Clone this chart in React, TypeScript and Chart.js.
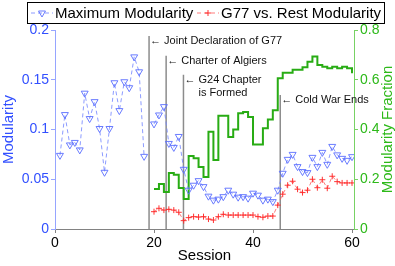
import React, { useEffect, useRef } from "react";
import { Chart, registerables } from "chart.js";

Chart.register(...registerables);

const FONT = '"Liberation Sans", Arial, Helvetica, sans-serif';

// ---------- data ----------
const seriesNames = ["Maximum Modularity", "G77 vs. Rest Modularity"];
const leftAxisTitle = "Modularity";
const rightAxisTitle = "Modularity Fraction";
const xAxisTitle = "Session";

const sessions = [
  1, 2, 3, 4, 5, 6, 7, 8, 9, 10, 11, 12, 13, 14, 15, 16, 17, 18, 19, 20,
  21, 22, 23, 24, 25, 26, 27, 28, 29, 30, 31, 32, 33, 34, 35, 36, 37, 38, 39, 40,
  41, 42, 43, 44, 45, 46, 47, 48, 49, 50, 51, 52, 53, 54, 55, 56, 57, 58, 59, 60,
];
const maxModularity = [
  0.074, 0.115, 0.0845, 0.087, 0.0795, 0.1365, 0.111, 0.128, 0.101, 0.057,
  0.101, 0.147, 0.119, 0.148, 0.142, 0.173, 0.158, 0.073, null, 0.1056,
  0.1146, 0.123, 0.086, 0.082, 0.093, 0.06, 0.039, 0.044, 0.0486, 0.0426,
  0.033, 0.029, 0.03, 0.0325, 0.039, 0.035, 0.032, 0.0325, 0.031, 0.036,
  0.034, 0.029, 0.03, 0.0275, 0.039, 0.056, 0.07, 0.075, 0.0627, 0.0577,
  0.0567, 0.072, 0.0627, 0.077, 0.065, 0.083, 0.0745, 0.071, 0.069, 0.0727,
];

const g77Sessions = [
  20, 21, 22, 23, 24, 25, 26, 27, 28, 29, 30, 31, 32, 33, 34, 35, 36, 37, 38, 39, 40,
  41, 42, 43, 44, 45, 46, 47, 48, 49, 50, 51, 52, 53, 54, 55, 56, 57, 58, 59, 60,
];
const g77VsRest = [
  0.0174, 0.0208, 0.019, 0.0198, 0.019, 0.0168, 0.0084, 0.0114, 0.0124, 0.012, 0.0124,
  0.01, 0.009, 0.0124, 0.0148, 0.014, 0.014, 0.014, 0.014, 0.014, 0.014,
  0.0124, 0.0118, 0.013, 0.013, 0.024, 0.035, 0.044, 0.048, 0.04, 0.0366,
  0.039, 0.05, 0.0415, 0.0495, 0.041, 0.053, 0.0476, 0.0463, 0.0463, 0.0463,
];
const modularityFraction = [
  0.161, 0.181, 0.149, 0.225, 0.218, 0.165, 0.121, 0.293, 0.284, 0.249, 0.209,
  0.391, 0.277, 0.455, 0.455, 0.37, 0.4, 0.465, 0.47, 0.45, 0.34,
  0.34, 0.405, 0.44, 0.477, 0.606, 0.628, 0.628, 0.64, 0.64, 0.65,
  0.672, 0.693, 0.659, 0.652, 0.646, 0.652, 0.646, 0.652, 0.646, 0.626,
];

const xTicks = [0, 20, 40, 60];
const xTickLabels = ["0", "20", "40", "60"];
const leftTicks = [0, 0.05, 0.1, 0.15, 0.2];
const leftTickLabels = ["0", "0.05", "0.1", "0.15", "0.2"];
const rightTicks = [0, 0.2, 0.4, 0.6, 0.8];
const rightTickLabels = ["0", "0.2", "0.4", "0.6", "0.8"];

const eventSessions = [19, 22.45, 25.95, 45.5];
const eventLabels = [
  ["Joint Declaration of G77"],
  ["Charter of Algiers"],
  ["G24 Chapter", "is Formed"],
  ["Cold War Ends"],
];
const eventLevels = [0.189, 0.169, 0.15, 0.1297];

// ---------- styles ----------
const BLUE_LINE = "rgba(120,138,255,0.85)";
const BLUE_POINT = "rgba(90,110,255,0.9)";
const BLUE_TEXT = "rgb(50,80,255)";
const BLUE_AXIS = "rgb(150,165,255)";
const RED_LINE = "rgba(255,90,90,0.8)";
const RED_POINT = "rgba(255,40,40,0.95)";
const GREEN = "rgb(40,172,20)";
const GREEN_TEXT = "rgb(45,185,25)";
const GREEN_AXIS = "rgb(120,210,100)";
const GRAY_AXIS = "rgb(130,130,130)";

function drawTriangleDown(ctx: CanvasRenderingContext2D, x: number, y: number, r: number, color: string) {
  ctx.save();
  ctx.strokeStyle = color;
  ctx.lineWidth = 1;
  ctx.setLineDash([]);
  ctx.beginPath();
  const s = Math.sin(Math.PI / 3) * r;
  ctx.moveTo(x, y + r);
  ctx.lineTo(x - s, y - r / 2);
  ctx.lineTo(x + s, y - r / 2);
  ctx.closePath();
  ctx.stroke();
  ctx.restore();
}

function drawCross(ctx: CanvasRenderingContext2D, x: number, y: number, r: number, color: string) {
  ctx.save();
  ctx.strokeStyle = color;
  ctx.lineWidth = 1;
  ctx.setLineDash([]);
  ctx.beginPath();
  ctx.moveTo(x - r, y);
  ctx.lineTo(x + r, y);
  ctx.moveTo(x, y - r);
  ctx.lineTo(x, y + r);
  ctx.stroke();
  ctx.restore();
}

function drawDash(ctx: CanvasRenderingContext2D, x0: number, x1: number, y: number, color: string) {
  ctx.save();
  ctx.strokeStyle = color;
  ctx.lineWidth = 1;
  ctx.setLineDash([4, 3]);
  ctx.beginPath();
  ctx.moveTo(x0, y);
  ctx.lineTo(x1, y);
  ctx.stroke();
  ctx.restore();
}

const eventLinesPlugin = {
  id: "eventLines",
  beforeDatasetsDraw(chart: any) {
    const { ctx, scales } = chart;
    const x = scales.x;
    const y = scales.y;
    ctx.save();
    ctx.strokeStyle = "rgb(140,140,140)";
    ctx.lineWidth = 1.5;
    eventSessions.forEach((s, i) => {
      const px = x.getPixelForValue(s);
      const ty = y.getPixelForValue(eventLevels[i]);
      ctx.beginPath();
      ctx.moveTo(px, y.bottom);
      ctx.lineTo(px, ty - 5);
      ctx.stroke();
    });
    ctx.restore();
  },
  afterDatasetsDraw(chart: any) {
    const { ctx, scales } = chart;
    const x = scales.x;
    const y = scales.y;
    ctx.save();
    ctx.font = `11px ${FONT}`;
    ctx.fillStyle = "#111";
    ctx.textBaseline = "middle";
    ctx.textAlign = "left";
    const arrowW = ctx.measureText("\u2190 ").width;
    eventSessions.forEach((s, i) => {
      const px = x.getPixelForValue(s);
      const ty = y.getPixelForValue(eventLevels[i]);
      const lines = eventLabels[i];
      ctx.fillText("\u2190 " + lines[0], px + 1, ty);
      for (let j = 1; j < lines.length; j++) {
        ctx.fillText(lines[j], px + 1 + arrowW, ty + 13 * j);
      }
    });
    ctx.restore();
  },
};

const legendPlugin = {
  id: "boxLegend",
  afterDraw(chart: any) {
    const ctx: CanvasRenderingContext2D = chart.ctx;
    ctx.save();
    ctx.fillStyle = "#fff";
    ctx.fillRect(27.5, 2.5, 357, 21);
    ctx.strokeStyle = "#000";
    ctx.lineWidth = 1;
    ctx.strokeRect(27.5, 2.5, 357, 21);
    const cy = 13;
    drawDash(ctx, 31, 53, cy, BLUE_LINE);
    drawTriangleDown(ctx, 42, cy, 4, BLUE_POINT);
    drawDash(ctx, 197, 219, cy, RED_LINE);
    drawCross(ctx, 208, cy, 3, RED_POINT);
    ctx.font = `15px ${FONT}`;
    ctx.fillStyle = "#000";
    ctx.textBaseline = "middle";
    ctx.textAlign = "left";
    ctx.fillText(seriesNames[0], 55, cy + 0.5);
    ctx.fillText(seriesNames[1], 221, cy + 0.5);
    ctx.restore();
  },
};

const rightTitlePlugin = {
  id: "rightTitle",
  afterDraw(chart: any) {
    const { ctx, chartArea } = chart;
    ctx.save();
    ctx.translate(388, (chartArea.top + chartArea.bottom) / 2);
    ctx.rotate(-Math.PI / 2);
    ctx.font = `15px ${FONT}`;
    ctx.fillStyle = GREEN_TEXT;
    ctx.textAlign = "center";
    ctx.textBaseline = "middle";
    ctx.fillText(rightAxisTitle, 0, 0);
    ctx.restore();
  },
};

export default function App() {
  const ref = useRef<HTMLCanvasElement>(null);
  useEffect(() => {
    const canvas = ref.current;
    if (!canvas) return;
    const chart = new Chart(canvas, {
      type: "line",
      data: {
        datasets: [
          {
            label: seriesNames[0],
            data: sessions.map((s, i) => ({ x: s, y: maxModularity[i] })) as any,
            yAxisID: "y",
            borderColor: BLUE_LINE,
            borderWidth: 1,
            borderDash: [4, 3],
            pointStyle: "triangle",
            pointRotation: 180,
            pointRadius: 4,
            pointBorderWidth: 1,
            pointBorderColor: BLUE_POINT,
            pointBackgroundColor: "rgba(255,255,255,0)",
            spanGaps: false,
            order: 0,
          },
          {
            label: seriesNames[1],
            data: g77Sessions.map((s, i) => ({ x: s, y: g77VsRest[i] })),
            yAxisID: "y",
            borderColor: RED_LINE,
            borderWidth: 1,
            borderDash: [4, 3],
            pointStyle: "cross",
            pointRadius: 3,
            pointBorderWidth: 1,
            pointBorderColor: RED_POINT,
            order: 1,
          },
          {
            label: rightAxisTitle,
            data: g77Sessions.map((s, i) => ({ x: s, y: modularityFraction[i] })),
            yAxisID: "y1",
            borderColor: GREEN,
            borderWidth: 2,
            stepped: true,
            pointRadius: 0,
            order: 2,
          },
        ],
      },
      options: {
        responsive: false,
        animation: false,
        devicePixelRatio: 1,
        layout: { padding: { top: 30, left: 0, right: 0, bottom: 0 } },
        plugins: { legend: { display: false }, tooltip: { enabled: false } },
        font: { family: FONT },
        scales: {
          x: {
            type: "linear",
            min: 0,
            max: 60.4,
            afterBuildTicks: (s: any) => {
              s.ticks = xTicks.map((v) => ({ value: v }));
            },
            afterFit: (s: any) => {
              s.height = 37;
            },
            border: { display: true, color: GRAY_AXIS, width: 1 },
            grid: { drawOnChartArea: false, tickLength: 4, color: GRAY_AXIS },
            ticks: {
              color: "#000",
              font: { family: FONT, size: 14 },
              padding: 2,
              maxRotation: 0,
              callback: (_v: any, i: number) => xTickLabels[i],
            },
            title: {
              display: true,
              text: xAxisTitle,
              color: "#000",
              font: { family: FONT, size: 15 },
              padding: { top: 0, bottom: 1 },
            },
          },
          y: {
            type: "linear",
            position: "left",
            min: 0,
            max: 0.2,
            afterBuildTicks: (s: any) => {
              s.ticks = leftTicks.map((v) => ({ value: v }));
            },
            afterFit: (s: any) => {
              s.width = 55;
            },
            border: { display: true, color: BLUE_AXIS, width: 1 },
            grid: { drawOnChartArea: false, tickLength: 4, color: BLUE_AXIS },
            ticks: {
              color: BLUE_TEXT,
              font: { family: FONT, size: 14 },
              padding: 2,
              callback: (_v: any, i: number) => leftTickLabels[i],
            },
            title: {
              display: true,
              text: leftAxisTitle,
              color: BLUE_TEXT,
              font: { family: FONT, size: 15 },
              padding: { top: 0, bottom: 0 },
            },
          },
          y1: {
            type: "linear",
            position: "right",
            min: 0,
            max: 0.8,
            afterBuildTicks: (s: any) => {
              s.ticks = rightTicks.map((v) => ({ value: v }));
            },
            afterFit: (s: any) => {
              s.width = 41;
            },
            border: { display: true, color: GREEN_AXIS, width: 1 },
            grid: { drawOnChartArea: false, tickLength: 4, color: GREEN_AXIS },
            ticks: {
              color: GREEN_TEXT,
              font: { family: FONT, size: 14 },
              padding: 2,
              callback: (_v: any, i: number) => rightTickLabels[i],
            },
          },
        },
      } as any,
      plugins: [eventLinesPlugin, legendPlugin, rightTitlePlugin],
    });
    return () => chart.destroy();
  }, []);

  return (
    <div style={{ position: "absolute", left: 0, top: 0, width: 395, height: 266, background: "#fff" }}>
      <canvas ref={ref} width={395} height={266} style={{ display: "block", width: 395, height: 266 }} />
    </div>
  );
}
